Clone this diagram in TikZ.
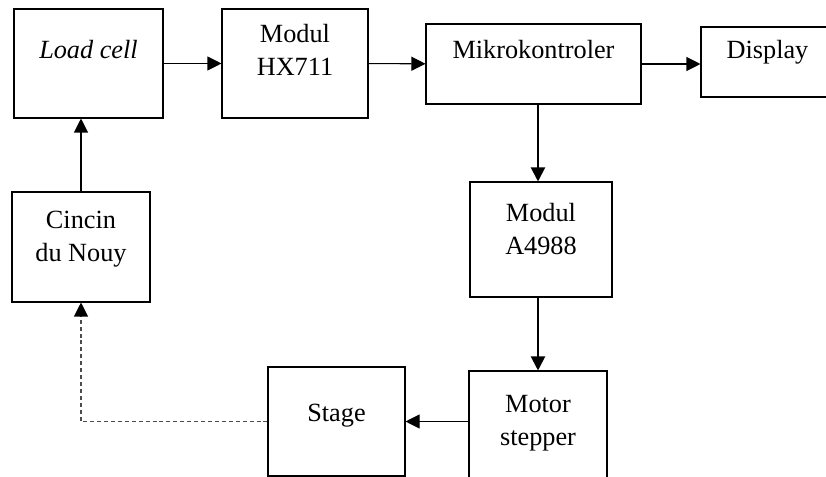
\documentclass[tikz,border=0pt]{standalone}
\usepackage{fontspec}
\setmainfont{Liberation Serif}
\usetikzlibrary{positioning}
\usetikzlibrary{arrows.meta}
\tikzset{>={Triangle[length=10.5pt,width=10.5pt]}}
\tikzstyle{blok} = [draw, rectangle, inner sep=0pt, line width=0.8pt]
\tikzstyle{tulisan} = [align=center, inner sep=0pt,
    font=\fontsize{19.7pt}{24.8pt}\selectfont]
\tikzstyle{tebal} = [line width=1.5pt]
\tikzstyle{putus} = [draw=black!70, dash pattern=on 3pt off 2.2pt,
    -{Triangle[length=10.5pt,width=10.5pt,color=black]}]

\begin{document}
\begin{tikzpicture}[x=0.75pt, y=0.75pt, line width=0.8pt]
    \clip (0,0) rectangle (826,-477);
    % Kotak-kotak blok diletakkan dulu
    \node [blok, minimum width=111.75pt, minimum height=81.75pt] (loadcell) at (88.5,-63.5) {};
    \node [blok, minimum width=109.5pt, minimum height=81.75pt] (hx) at (295,-63.5) {};
    \node [blok, minimum width=161.25pt, minimum height=60pt] (mikro) at (533.5,-64) {};
    \node [blok, minimum width=99.75pt, minimum height=52.5pt] (display) at (767.5,-62) {};
    \node [blok, minimum width=106.5pt, minimum height=86.25pt] (driver) at (541,-239.5) {};
    \node [blok, minimum width=103.5pt, minimum height=89.25pt] (motor) at (538,-430.5) {};
    \node [blok, minimum width=102.75pt, minimum height=81.75pt] (stage) at (336.5,-421.5) {};
    \node [blok, minimum width=103.5pt, minimum height=82.5pt] (cincin) at (81,-247) {};

    % Tulisan di bagian atas tiap kotak
    \node [tulisan, below=31 of loadcell.north] (loadcell-t) {\textit{Load cell}};
    \node [tulisan, below=15 of hx.north] (hx-t) {Modul\\HX711};
    \node [tulisan, below=16 of mikro.north] (mikro-t) {Mikrokontroler};
    \node [tulisan, below=13 of display.north] (display-t) {Display};
    \node [tulisan, below=21 of driver.north] (driver-t) {Modul\\A4988};
    \node [tulisan, below=24 of motor.north] (motor-t) {Motor\\stepper};
    \node [tulisan, below=37 of stage.north] (stage-t) {Stage};
    \node [tulisan, below=19 of cincin.north] (cincin-t) {Cincin\\du Nouy};

    % Panah penghubung
    \draw [->] (loadcell) -- (hx);
    \draw [->] (hx) -- (mikro);
    \draw [->] (mikro.east) -- (mikro.east -| display.west);
    \draw [->, tebal] ([xshift=-2.25pt]driver.north |- mikro.south) -- ([xshift=-2.25pt]driver.north);
    \draw [->, tebal] (motor.north |- driver.south) -- (motor.north);
    \draw [->] (stage.east -| motor.west) -- (stage.east);
    \draw [putus] (stage.west) -| (cincin.south);
    \draw [->] (cincin.north) -- (cincin.north |- loadcell.south);
\end{tikzpicture}
\end{document}
